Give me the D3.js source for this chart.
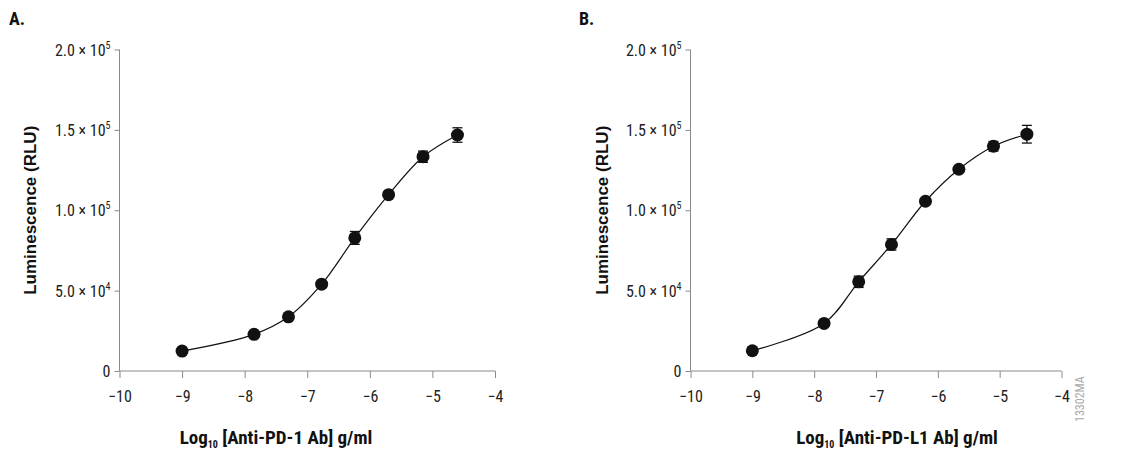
<!DOCTYPE html>
<html>
<head>
<meta charset="UTF-8">
<style>
body { margin: 0; background: #fff; }
text { font-family: "Liberation Sans Narrow", "Roboto Condensed", "DejaVu Sans Condensed", sans-serif; }
</style>
</head>
<body>
<div id="chart"></div>
<script src="https://d3js.org/d3.v7.min.js"></script>
<script>
const width = 1125, height = 452;

// Panel A: anti-PD-1
const xA = [-9, -7.85, -7.3, -6.77, -6.24, -5.7, -5.15, -4.6];
const yA = [12400, 22800, 33700, 54000, 82800, 109700, 133300, 146800];
const errA = [1200, 1500, 1800, 1500, 4000, 1500, 3500, 4500];
// Panel B: anti-PD-L1
const xB = [-9, -7.84, -7.28, -6.75, -6.2, -5.66, -5.1, -4.56];
const yB = [12600, 29600, 55500, 78700, 105600, 125500, 139800, 147300];
const errB = [1200, 1500, 3500, 3500, 1500, 1500, 3000, 5500];

const xTicks = [-10, -9, -8, -7, -6, -5, -4];
const yTicks = [0, 50000, 100000, 150000, 200000];
const yTickMant = ["0", "5.0", "1.0", "1.5", "2.0"];
const yTickExp = ["", "4", "5", "5", "5"];

const svg = d3.select("#chart").append("svg")
  .attr("width", width).attr("height", height);

function panel(cfg) {
  const x = d3.scaleLinear().domain([-10, -4]).range([cfg.left, cfg.right]);
  const y = d3.scaleLinear().domain([0, 200000]).range([371, 49.5]);
  const g = svg.append("g");
  const axisCol = "#8a8a8a";

  g.append("g").attr("transform", `translate(0,${y(0)})`)
    .call(d3.axisBottom(x).tickValues(xTicks).tickSize(7).tickFormat(d => d3.format("")(d).replace("-", "\u2212")))
    .call(a => a.select(".domain").attr("stroke", axisCol).attr("d", `M${cfg.left},0H${cfg.right}`))
    .call(a => a.selectAll("line").attr("stroke", axisCol))
    .call(a => a.selectAll("text").attr("font-size", 16).attr("fill", "#222").attr("dy", "1.3em"));

  g.append("g").attr("transform", `translate(${cfg.left},0)`)
    .call(d3.axisLeft(y).tickValues(yTicks).tickSize(5).tickFormat(""))
    .call(a => a.select(".domain").attr("stroke", axisCol).attr("d", `M0,${y(0)}V${y(200000)}`))
    .call(a => a.selectAll("line").attr("stroke", axisCol));
  yTicks.forEach((v, i) => {
    const t = g.append("text").attr("x", cfg.left - 9).attr("y", y(v) + 6)
      .attr("text-anchor", "end").attr("font-size", 16).attr("fill", "#222");
    if (yTickExp[i]) {
      t.append("tspan").text(yTickMant[i] + " \u00d7 10");
      t.append("tspan").text(yTickExp[i]).attr("font-size", 10).attr("dy", -7);
    } else t.text(yTickMant[i]);
  });

  const pts = cfg.xs.map((d, i) => [d, cfg.ys[i]]);
  g.append("path").datum(pts)
    .attr("fill", "none").attr("stroke", "#111").attr("stroke-width", 1.2)
    .attr("d", d3.line().x(d => x(d[0])).y(d => y(d[1])).curve(d3.curveCatmullRom.alpha(0.5)));

  pts.forEach((d, i) => {
    const e = cfg.errs[i], cx = x(d[0]);
    const eg = g.append("g").attr("stroke", "#111").attr("stroke-width", 1.3);
    eg.append("line").attr("x1", cx).attr("x2", cx).attr("y1", y(d[1] - e)).attr("y2", y(d[1] + e));
    [d[1] - e, d[1] + e].forEach(v => eg.append("line")
      .attr("x1", cx - 5).attr("x2", cx + 5).attr("y1", y(v)).attr("y2", y(v)));
  });
  g.selectAll("circle.pt").data(pts).enter().append("circle")
    .attr("cx", d => x(d[0])).attr("cy", d => y(d[1])).attr("r", 6.5).attr("fill", "#111");

  g.append("text").attr("x", cfg.panelX).attr("y", 25).attr("font-size", 18)
    .attr("font-weight", "bold").attr("fill", "#111").text(cfg.letter);
  g.append("text").attr("transform", `translate(${cfg.ylabX},${y(100000)}) rotate(-90)`)
    .attr("text-anchor", "middle").attr("font-size", 17).attr("font-weight", "bold")
    .style("font-family", "'Liberation Sans', Arial, sans-serif")
    .attr("fill", "#111").text("Luminescence (RLU)");
  const xl = g.append("text").attr("x", cfg.xlabX).attr("y", 444)
    .attr("text-anchor", "middle").attr("font-size", 19).attr("font-weight", "bold").attr("fill", "#111");
  xl.append("tspan").text("Log");
  xl.append("tspan").text("10").attr("font-size", 10).attr("dy", 4);
  xl.append("tspan").text(" " + cfg.xlabel).attr("dy", -4);
}

panel({ left: 119.5, right: 495, xs: xA, ys: yA, errs: errA, letter: "A.", panelX: 9,
  ylabX: 36, xlabX: 276, xlabel: "[Anti-PD-1 Ab] g/ml" });
panel({ left: 690.5, right: 1061.5, xs: xB, ys: yB, errs: errB, letter: "B.", panelX: 579,
  ylabX: 608, xlabX: 897, xlabel: "[Anti-PD-L1 Ab] g/ml" });

svg.append("text").attr("transform", "translate(1084,422) rotate(-90)")
  .attr("font-size", 12).attr("fill", "#aaa").text("13302MA");
</script>
</body>
</html>
